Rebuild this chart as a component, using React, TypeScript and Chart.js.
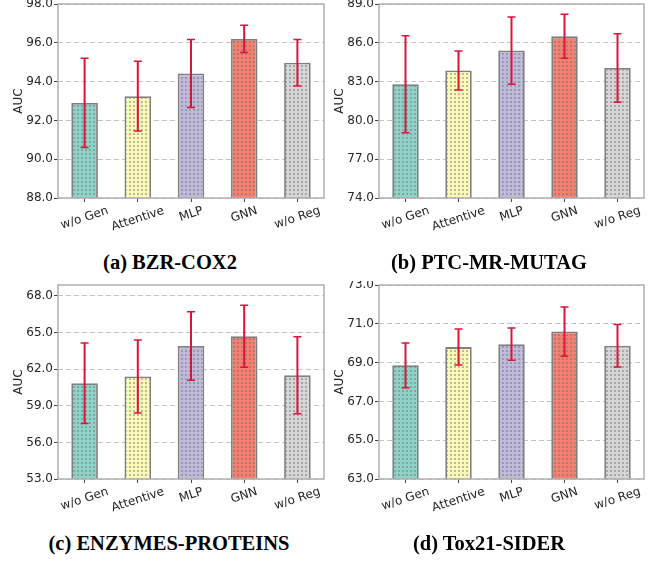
import React, { useEffect, useRef } from 'react';
import { Chart, registerables } from 'chart.js';

Chart.register(...registerables);

// ---------- data ----------
const categories = ['w/o Gen', 'Attentive', 'MLP', 'GNN', 'w/o Reg'];

const bzrMeans = [92.9, 93.25, 94.42, 96.2, 94.97];
const bzrErrs = [2.3, 1.8, 1.75, 0.7, 1.2];
const bzrTicks = [88, 90, 92, 94, 96, 98];

const ptcMeans = [82.8, 83.86, 85.4, 86.5, 84.05];
const ptcErrs = [3.75, 1.5, 2.6, 1.7, 2.65];
const ptcTicks = [74, 77, 80, 83, 86, 89];

const enzMeans = [60.85, 61.4, 63.9, 64.7, 61.5];
const enzErrs = [3.3, 3.0, 2.8, 2.55, 3.15];
const enzTicks = [53, 56, 59, 62, 65, 68];

const toxMeans = [68.86, 69.8, 69.95, 70.6, 69.87];
const toxErrs = [1.15, 0.93, 0.83, 1.27, 1.1];
const toxTicks = [63, 65, 67, 69, 71, 73];

const panelTitles = ['(a) BZR-COX2', '(b) PTC-MR-MUTAG', '(c) ENZYMES-PROTEINS', '(d) Tox21-SIDER'];

// ---------- styles ----------
const barColors = ['#8dd3c7', '#fbf9b8', '#bebada', '#f5806f', '#d6d6d6'];
const TICK_FONT = { family: '"DejaVu Sans", sans-serif', size: 12 };

function makePattern(color: string): CanvasPattern | string {
  const c = document.createElement('canvas');
  c.width = 4;
  c.height = 4;
  const g = c.getContext('2d');
  if (!g) return color;
  g.fillStyle = color;
  g.fillRect(0, 0, 4, 4);
  g.fillStyle = 'rgba(110,110,110,0.45)';
  g.fillRect(1, 1, 2, 2);
  const p = g.createPattern(c, 'repeat');
  return p || color;
}

const decorPlugin = {
  id: 'decor',
  afterDatasetsDraw(chart: any, _args: any, opts: any) {
    const { ctx, chartArea } = chart;
    const x = chart.scales.x;
    const y = chart.scales.y;
    const means: number[] = opts.means;
    const errs: number[] = opts.errs;
    ctx.save();
    // frame
    ctx.strokeStyle = '#b0b0b0';
    ctx.lineWidth = 1.5;
    ctx.setLineDash([]);
    ctx.strokeRect(chartArea.left, chartArea.top, chartArea.right - chartArea.left, chartArea.bottom - chartArea.top);
    // error bars
    ctx.strokeStyle = '#dc143c';
    means.forEach((m, i) => {
      const px = x.getPixelForValue(i);
      const yt = y.getPixelForValue(m + errs[i]);
      const yb = y.getPixelForValue(m - errs[i]);
      ctx.lineWidth = 2;
      ctx.beginPath();
      ctx.moveTo(px, yt);
      ctx.lineTo(px, yb);
      ctx.stroke();
      ctx.lineWidth = 1.5;
      ctx.beginPath();
      ctx.moveTo(px - 4, yt);
      ctx.lineTo(px + 4, yt);
      ctx.moveTo(px - 4, yb);
      ctx.lineTo(px + 4, yb);
      ctx.stroke();
    });
    // rotated, centered category labels
    const labels: string[] = chart.data.labels;
    ctx.font = '12px "DejaVu Sans", sans-serif';
    ctx.fillStyle = '#262626';
    const th = (18 * Math.PI) / 180;
    labels.forEach((c, i) => {
      const w = ctx.measureText(c).width;
      const h = 11.5;
      const H = w * Math.sin(th) + h * Math.cos(th);
      const cx = x.getPixelForValue(i);
      const cy = chartArea.bottom + 7 + H / 2;
      ctx.save();
      ctx.translate(cx, cy);
      ctx.rotate(-th);
      ctx.textAlign = 'center';
      ctx.textBaseline = 'middle';
      ctx.fillText(c, 0, 0);
      ctx.restore();
    });
    ctx.restore();
  },
};

type Layout = { left: number; top: number; width: number; height: number; padRight: number };

function Panel(props: { means: number[]; errs: number[]; ticks: number[]; max: number; layout: Layout }) {
  const ref = useRef<HTMLCanvasElement | null>(null);
  useEffect(() => {
    if (!ref.current) return;
    const { means, errs, ticks, max, layout } = props;
    const chart = new Chart(ref.current, {
      type: 'bar',
      data: {
        labels: categories,
        datasets: [
          {
            data: means,
            backgroundColor: barColors.map(makePattern) as any,
            borderColor: '#808080',
            borderWidth: 1.8,
            borderSkipped: false,
            barPercentage: 0.5,
            categoryPercentage: 1.0,
          },
        ],
      },
      options: {
        responsive: false,
        animation: false,
        devicePixelRatio: 1,
        layout: { padding: { left: 0, top: 4, right: layout.padRight, bottom: 0 } },
        plugins: {
          legend: { display: false },
          tooltip: { enabled: false },
          decor: { means, errs },
        } as any,
        scales: {
          x: {
            ticks: { display: false },
            grid: { offset: false, drawOnChartArea: false, drawTicks: true, tickLength: 4, tickColor: '#444', tickWidth: 1 },
            border: { display: false },
            afterFit: (s: any) => {
              s.height = 42;
              s.paddingLeft = 0;
              s.paddingRight = 0;
            },
          },
          y: {
            min: ticks[0],
            max,
            afterBuildTicks: (s: any) => {
              s.ticks = ticks.map((v) => ({ value: v }));
            },
            afterFit: (s: any) => {
              s.width = 58;
              s.paddingTop = 0;
              s.paddingBottom = 0;
            },
            ticks: {
              callback: (v: any) => Number(v).toFixed(1),
              font: TICK_FONT,
              color: '#262626',
              padding: 1,
            },
            grid: { color: '#c4c4c4', lineWidth: 1, tickColor: '#444', tickLength: 4, tickWidth: 1, tickBorderDash: [] },
            border: { display: false, dash: [5, 3] },
            title: {
              display: true,
              text: 'AUC',
              font: TICK_FONT,
              color: '#262626',
              padding: { top: 12, bottom: 0 },
            },
          },
        },
      },
      plugins: [decorPlugin as any],
    });
    return () => chart.destroy();
  }, []);
  const { layout } = props;
  return (
    <canvas
      ref={ref}
      width={layout.width}
      height={layout.height}
      style={{ position: 'absolute', left: layout.left, top: layout.top, width: layout.width, height: layout.height }}
    />
  );
}

const layouts: Layout[] = [
  { left: 0, top: 0, width: 330, height: 240, padRight: 6 },
  { left: 321, top: 0, width: 346, height: 240, padRight: 23 },
  { left: 0, top: 281, width: 330, height: 240, padRight: 6 },
  { left: 321, top: 281, width: 346, height: 240, padRight: 23 },
];
const titleCenters = [
  [170, 262],
  [489, 262],
  [169, 543],
  [489, 543],
];

export default function App() {
  const panels = [
    { means: bzrMeans, errs: bzrErrs, ticks: bzrTicks, max: 98 },
    { means: ptcMeans, errs: ptcErrs, ticks: ptcTicks, max: 89 },
    { means: enzMeans, errs: enzErrs, ticks: enzTicks, max: 68.9 },
    { means: toxMeans, errs: toxErrs, ticks: toxTicks, max: 73 },
  ];
  return (
    <div style={{ position: 'fixed', left: 0, top: 0, width: 667, height: 561, background: '#fff', overflow: 'hidden' }}>
      {panels.map((p, i) => (
        <Panel key={i} means={p.means} errs={p.errs} ticks={p.ticks} max={p.max} layout={layouts[i]} />
      ))}
      {panelTitles.map((t, i) => (
        <div
          key={'t' + i}
          style={{
            position: 'absolute',
            left: titleCenters[i][0] - 160,
            width: 320,
            top: titleCenters[i][1] - 12,
            height: 24,
            lineHeight: '24px',
            textAlign: 'center',
            fontFamily: '"Liberation Serif", serif',
            fontWeight: 'bold',
            fontSize: 20.5,
            color: '#000',
            whiteSpace: 'nowrap',
          }}
        >
          {t}
        </div>
      ))}
    </div>
  );
}
